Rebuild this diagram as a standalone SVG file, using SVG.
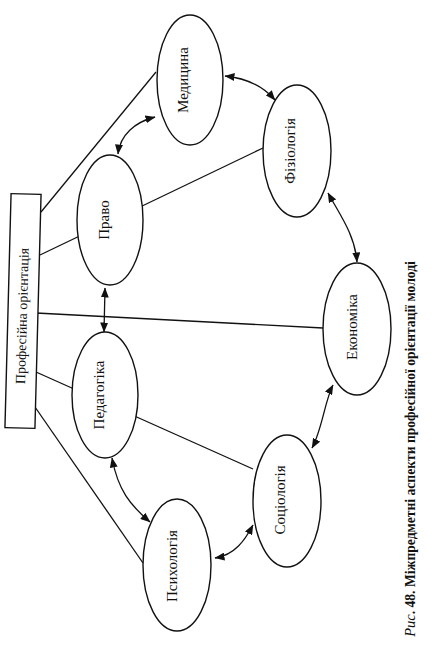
<svg xmlns="http://www.w3.org/2000/svg" width="436" height="654" viewBox="0 0 436 654">
<style>
.ln{stroke:#111;stroke-width:1.3;fill:none}
.ar{stroke:#111;stroke-width:1.3;fill:none;marker-start:url(#ah);marker-end:url(#ah)}
.el{fill:#fff;stroke:#111;stroke-width:1.4}
.lb{font-family:"Liberation Serif",serif;font-size:15px;fill:#111;text-anchor:middle}
</style>
<defs>
<marker id="ah" viewBox="0 0 10 8" refX="9.5" refY="4" markerWidth="10" markerHeight="8" markerUnits="userSpaceOnUse" orient="auto-start-reverse">
<path d="M0,0 L10,4 L0,8 Z" fill="#111"/>
</marker>
</defs>
<rect width="436" height="654" fill="#fff"/>
<g id="connectors">
<line class="ln" x1="41" y1="212" x2="156" y2="72"/>
<line class="ln" x1="40" y1="255" x2="263" y2="148"/>
<line class="ln" x1="36" y1="313" x2="323" y2="328"/>
<line class="ln" x1="36" y1="372" x2="253" y2="469"/>
<line class="ln" x1="35" y1="407" x2="143" y2="563"/>
<path class="ar" d="M118,154 C120,135 135,122 155,117"/>
<path class="ar" d="M225,76 C245,78 262,85 275,100"/>
<path class="ar" d="M328,193 C340,215 355,235 357,262"/>
<path class="ar" d="M333,385 C325,400 322,430 312,448"/>
<path class="ar" d="M215,558 C235,555 245,540 253,525"/>
<path class="ar" d="M112,458 C118,490 130,505 150,522"/>
<path class="ar" d="M105,288 L104,332"/>
</g>
<g id="profor" transform="rotate(1.5 23 311)">
<rect x="8" y="194" width="30" height="234" fill="#fff" stroke="#111" stroke-width="1.4"/>
<text transform="translate(27 316) rotate(-90)" font-family="Liberation Serif, serif" font-size="14" text-anchor="middle" fill="#111">Професійна орієнтація</text>
</g>
<g id="medytsyna">
<ellipse class="el" cx="190" cy="80" rx="33" ry="65"/>
<text class="lb" transform="translate(188 80) rotate(-90)">Медицина</text>
</g>
<g id="pravo">
<ellipse class="el" cx="110" cy="220" rx="33" ry="65"/>
<text class="lb" transform="translate(109 220) rotate(-90)">Право</text>
</g>
<g id="fiziolohiia">
<ellipse class="el" cx="297" cy="151" rx="34" ry="66"/>
<text class="lb" transform="translate(295 151) rotate(-90)">Фізіологія</text>
</g>
<g id="ekonomika">
<ellipse class="el" cx="357" cy="329" rx="34" ry="66"/>
<text class="lb" transform="translate(357 327) rotate(-90)">Економіка</text>
</g>
<g id="pedahohika">
<ellipse class="el" cx="105" cy="395" rx="33" ry="63"/>
<text class="lb" transform="translate(104 395) rotate(-90)">Педагогіка</text>
</g>
<g id="sotsiolohiia">
<ellipse class="el" cx="287" cy="501" rx="34" ry="66"/>
<text class="lb" transform="translate(285 500) rotate(-90)">Соціологія</text>
</g>
<g id="psykholohiia">
<ellipse class="el" cx="177" cy="565" rx="34" ry="66"/>
<text class="lb" transform="translate(177 566) rotate(-90)">Психологія</text>
</g>
<text transform="translate(415 449) rotate(-90)" font-family="Liberation Serif, serif" font-size="13.6" font-weight="bold" text-anchor="middle" fill="#111"><tspan font-style="italic" font-weight="normal" font-size="14.5">Рис</tspan>. 48. Міжпредметні аспекти професійної орієнтації молоді</text>
</svg>
